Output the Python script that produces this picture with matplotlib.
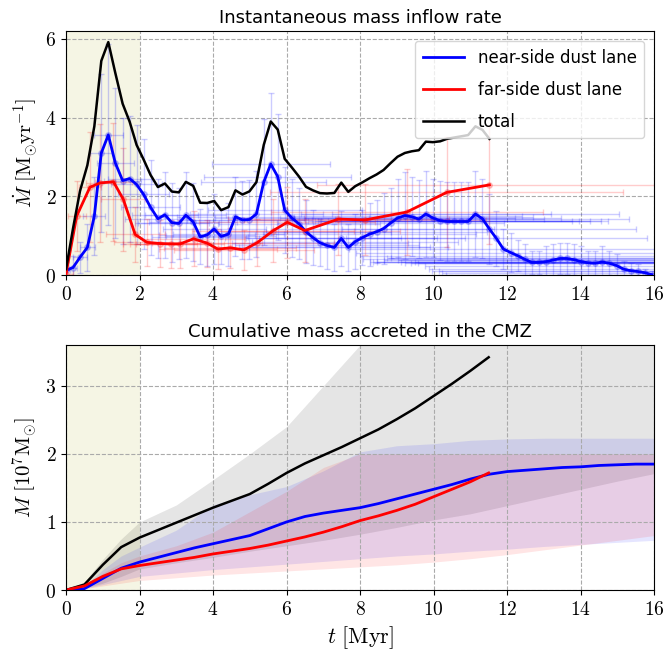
import numpy as np
import matplotlib
matplotlib.use("Agg")
import matplotlib.pyplot as plt
from matplotlib.ticker import FuncFormatter, MultipleLocator

plt.rcParams['mathtext.fontset'] = 'cm'

# ---- instantaneous inflow rate (Msun/yr), snapshot times in Myr ----
t_near = [0.00, 0.19, 0.38, 0.58, 0.77, 0.96, 1.15, 1.34, 1.54, 1.73,
          1.92, 2.11, 2.30, 2.50, 2.69, 2.88, 3.07, 3.26, 3.46, 3.65,
          3.84, 4.03, 4.22, 4.42, 4.61, 4.80, 4.99, 5.18, 5.38, 5.57,
          5.76, 5.95, 6.14, 6.34, 6.53, 6.72, 6.91, 7.10, 7.30, 7.49,
          7.68, 7.87, 8.06, 8.26, 8.45, 8.64, 8.83, 9.02, 9.22, 9.41,
          9.60, 9.79, 9.98, 10.18, 10.37, 10.56, 10.75, 10.94, 11.14, 11.33,
          11.52, 11.71, 11.90, 12.10, 12.29, 12.48, 12.67, 12.86, 13.06, 13.25,
          13.44, 13.63, 13.82, 14.02, 14.21, 14.40, 14.59, 14.78, 14.98, 15.17,
          15.36, 15.55, 15.74, 15.94]

near_rate = [0.12, 0.19, 0.45, 0.70, 1.50, 3.10, 3.56, 2.85, 2.40, 2.45,
             2.30, 2.05, 1.72, 1.43, 1.53, 1.33, 1.31, 1.52, 1.35, 0.97,
             1.02, 1.17, 0.98, 1.04, 1.48, 1.40, 1.41, 1.55, 2.36, 2.82,
             2.50, 1.65, 1.45, 1.30, 1.10, 0.95, 0.82, 0.75, 0.70, 0.93,
             0.70, 0.85, 0.95, 1.04, 1.10, 1.18, 1.32, 1.45, 1.51, 1.48,
             1.42, 1.55, 1.45, 1.38, 1.36, 1.36, 1.36, 1.36, 1.55, 1.43,
             1.17, 0.93, 0.66, 0.57, 0.49, 0.40, 0.32, 0.32, 0.34, 0.38,
             0.42, 0.42, 0.39, 0.34, 0.31, 0.30, 0.33, 0.30, 0.24, 0.15,
             0.11, 0.09, 0.06, 0.01]
near_yerr = [0.2, 0.3, 0.4, 0.6, 1.0, 2.0, 2.3, 1.9, 1.6, 1.6,
             1.5, 1.4, 1.2, 1.0, 1.1, 1.0, 0.9, 1.1, 1.0, 0.7,
             0.8, 0.9, 0.7, 0.8, 1.0, 1.0, 1.0, 1.1, 1.6, 1.8,
             1.6, 1.1, 1.0, 0.9, 0.8, 0.7, 0.6, 0.6, 0.6, 0.7,
             0.6, 0.7, 0.7, 0.8, 0.8, 0.9, 0.9, 1.0, 1.1, 1.0,
             1.0, 1.1, 1.0, 1.0, 1.0, 1.0, 1.0, 1.0, 1.1, 1.0,
             0.9, 0.7, 0.5, 0.5, 0.4, 0.4, 0.3, 0.3, 0.4, 0.4,
             0.4, 0.4, 0.4, 0.4, 0.3, 0.3, 0.4, 0.3, 0.3, 0.2,
             0.2, 0.2, 0.1, 0.1]
near_xerr = [0.1, 0.1, 0.2, 0.2, 0.3, 0.3, 0.4, 0.5, 0.5, 0.6,
             0.7, 0.7, 0.8, 0.9, 0.9, 1.0, 1.1, 1.1, 1.2, 1.3,
             1.3, 1.4, 1.5, 1.5, 1.6, 1.7, 1.7, 1.8, 1.7, 1.6,
             2.0, 2.1, 2.1, 2.2, 2.3, 2.4, 2.4, 2.5, 2.6, 2.6,
             2.7, 2.8, 2.8, 2.9, 3.0, 3.0, 3.1, 3.2, 3.2, 3.3,
             3.4, 3.4, 3.5, 3.6, 3.6, 3.7, 3.8, 3.8, 3.9, 4.0,
             4.0, 4.1, 4.2, 4.2, 4.3, 4.4, 4.4, 4.5, 4.6, 4.6,
             4.7, 4.8, 4.8, 4.9, 5.0, 5.0, 5.1, 5.2, 5.2, 5.3,
             5.4, 5.4, 5.5, 5.6]

t_far = [0.00, 0.29, 0.65, 0.93, 1.29, 1.56, 1.88, 2.20, 2.56, 2.85,
         3.10, 3.47, 3.84, 4.13, 4.47, 4.84, 5.20, 5.64, 6.02, 6.50,
         7.41, 8.14, 9.27, 10.36, 11.52]
far_rate = [0.03, 1.50, 2.23, 2.34, 2.37, 1.92, 1.03, 0.83, 0.80, 0.79,
            0.79, 0.92, 0.81, 0.66, 0.69, 0.64, 0.82, 1.13, 1.34, 1.13,
            1.42, 1.40, 1.60, 2.10, 2.29]
far_yerr = [0.1, 0.9, 1.4, 1.5, 1.5, 1.3, 0.7, 0.6, 0.6, 0.6,
            0.6, 0.7, 0.6, 0.5, 0.5, 0.5, 0.6, 0.8, 0.9, 0.8,
            0.9, 0.9, 1.1, 1.4, 1.5]
far_xerr = [0.2, 0.25, 0.3, 0.4, 0.5, 0.6, 0.8, 0.9, 1.0, 1.1,
            1.2, 1.4, 1.5, 1.6, 1.8, 1.9, 2.1, 2.2, 2.4, 2.6,
            3.0, 3.3, 3.7, 4.8, 4.7]

# ---- cumulative accreted mass (1e7 Msun) ----
t_cum = [0.0, 0.5, 1.0, 1.5, 2.0, 2.5, 3.0, 3.5, 4.0, 4.5, 5.0, 5.5,
         6.0, 6.5, 7.0, 7.5, 8.0, 8.5, 9.0, 9.5, 10.0, 10.5, 11.0, 11.5,
         12.0, 12.5, 13.0, 13.5, 14.0, 14.5, 15.0, 15.5, 16.0]
near_cum = [0.00, 0.02, 0.17, 0.32, 0.41, 0.48, 0.55, 0.62, 0.68, 0.74, 0.80, 0.90,
            1.00, 1.08, 1.13, 1.17, 1.21, 1.27, 1.34, 1.41, 1.48, 1.55, 1.63, 1.70,
            1.74, 1.76, 1.78, 1.80, 1.81, 1.83, 1.84, 1.85, 1.85]
far_cum = [0.00, 0.06, 0.20, 0.31, 0.36, 0.40, 0.44, 0.48, 0.53, 0.57, 0.61, 0.66,
           0.72, 0.78, 0.85, 0.93, 1.02, 1.09, 1.17, 1.26, 1.37, 1.48, 1.59, 1.72]

t_band = [0, 0.5, 1, 1.5, 2, 3, 4, 5, 6, 7, 8, 9, 10, 11, 12, 13, 14, 15, 16]
total_hi = [0, 0.12, 0.45, 0.75, 1.00, 1.25, 1.62, 2.00, 2.40, 3.00, 3.60, 4.0, 4.3, 4.6, 4.9, 5.2, 5.5, 5.8, 6.1]
total_lo = [0, 0.03, 0.10, 0.20, 0.31, 0.40, 0.48, 0.57, 0.65, 0.73, 0.82, 0.92, 1.03, 1.12, 1.24, 1.36, 1.48, 1.60, 1.71]
near_hi = [0, 0.05, 0.30, 0.50, 0.63, 0.88, 1.25, 1.40, 1.52, 1.75, 2.03, 2.12, 2.15, 2.20, 2.22, 2.23, 2.23, 2.23, 2.23]
near_lo = [0, 0.02, 0.08, 0.14, 0.20, 0.25, 0.30, 0.34, 0.38, 0.42, 0.46, 0.50, 0.53, 0.57, 0.60, 0.64, 0.67, 0.70, 0.73]
far_hi = [0, 0.06, 0.25, 0.40, 0.50, 0.65, 0.85, 1.15, 1.45, 1.80, 2.00, 2.00, 2.00, 2.00, 2.00, 2.00, 2.00, 2.00, 2.00]
far_lo = [0, 0.02, 0.06, 0.10, 0.14, 0.18, 0.22, 0.25, 0.28, 0.31, 0.34, 0.37, 0.41, 0.46, 0.52, 0.59, 0.66, 0.73, 0.80]

# total = near + far, taken on the near-side snapshots up to the last far-side one
t_tot = [t for t in t_near if t <= t_far[-1]]
total_rate = np.array(near_rate[:len(t_tot)]) + np.interp(t_tot, t_far, far_rate)
total_cum = np.array(near_cum[:len(far_cum)]) + np.array(far_cum)

fmt = FuncFormatter(lambda v, p: f'${v:g}$')

fig = plt.figure(figsize=(6.67, 6.5), dpi=100)
ax1 = fig.add_axes([0.099, 0.5769, 0.8816, 0.3754])
ax2 = fig.add_axes([0.099, 0.0923, 0.8816, 0.3769])

# top panel
ax1.axvspan(0, 2, color='#bfbf4c', alpha=0.15, lw=0, zorder=0)
ax1.errorbar(t_near, near_rate, yerr=near_yerr, xerr=near_xerr, fmt='o', color='b',
             alpha=0.2, ms=4, capsize=2, elinewidth=1, zorder=2)
ax1.errorbar(t_far, far_rate, yerr=far_yerr, xerr=far_xerr, fmt='o', color='r',
             alpha=0.2, ms=4, capsize=2, elinewidth=1, zorder=2)
ax1.plot(t_near, near_rate, color='b', lw=2, label='near-side dust lane', zorder=3)
ax1.plot(t_far, far_rate, color='r', lw=2, label='far-side dust lane', zorder=3)
ax1.plot(t_tot, total_rate, color='k', lw=1.8, label='total', zorder=3)
ax1.set_xlim(0, 16)
ax1.set_ylim(0, 6.2)
ax1.yaxis.set_major_locator(MultipleLocator(2))
ax1.set_title('Instantaneous mass inflow rate', fontsize=13)
ax1.set_ylabel(r'$\dot{M}\ [\mathrm{M}_{\odot}\mathrm{yr}^{-1}]$', fontsize=15)
ax1.legend(loc='upper right', fontsize=12, framealpha=0.8, handlelength=2.5,
           labelspacing=0.85, borderaxespad=0.6, borderpad=0.45)

# bottom panel
ax2.axvspan(0, 2, color='#bfbf4c', alpha=0.15, lw=0, zorder=0)
ax2.fill_between(t_band, total_lo, total_hi, color='k', alpha=0.1, lw=0)
ax2.fill_between(t_band, near_lo, near_hi, color='b', alpha=0.1, lw=0)
ax2.fill_between(t_band, far_lo, far_hi, color='r', alpha=0.1, lw=0)
ax2.plot(t_cum[:len(far_cum)], total_cum, color='k', lw=1.8)
ax2.plot(t_cum, near_cum, color='b', lw=2)
ax2.plot(t_cum[:len(far_cum)], far_cum, color='r', lw=2)
ax2.set_xlim(0, 16)
ax2.set_ylim(0, 3.6)
ax2.yaxis.set_major_locator(MultipleLocator(1))
ax2.set_title('Cumulative mass accreted in the CMZ', fontsize=13)
ax2.set_ylabel(r'$M\ [10^7\mathrm{M}_{\odot}]$', fontsize=15)
ax2.set_xlabel(r'$t\ [\mathrm{Myr}]$', fontsize=16)

for ax in (ax1, ax2):
    ax.xaxis.set_major_locator(MultipleLocator(2))
    ax.xaxis.set_major_formatter(fmt)
    ax.yaxis.set_major_formatter(fmt)
    ax.tick_params(labelsize=14)
    ax.grid(True, ls='--', color='#aaaaaa', lw=0.8)

fig.savefig('out.png', dpi=100)
